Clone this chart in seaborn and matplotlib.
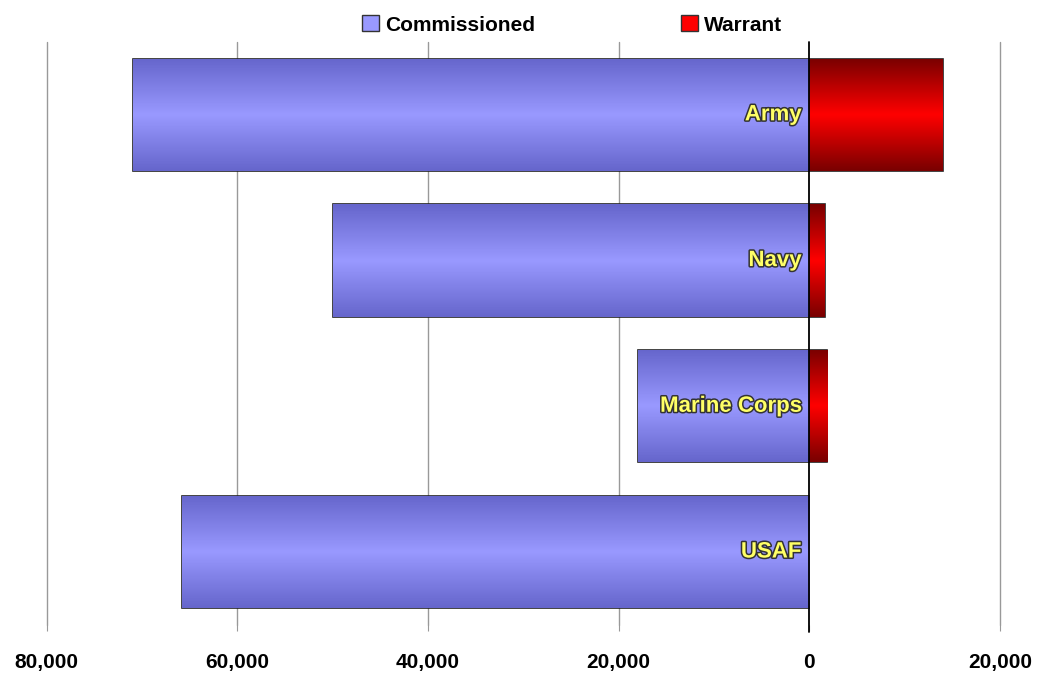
import pandas as pd
import seaborn as sns
import matplotlib.pyplot as plt
import matplotlib.patheffects as pe
import matplotlib.colors as mcolors
from matplotlib.patches import Patch
import numpy as np

# Data
branches = ['Army', 'Navy', 'Marine Corps', 'USAF']
commissioned = [71000, 50000, 18000, 65800]
warrant = [14000, 1600, 1900, 0]

df = pd.DataFrame({
    'branch': branches * 2,
    'type': ['Commissioned'] * 4 + ['Warrant'] * 4,
    'value': [-v for v in commissioned] + warrant,
})

sns.set_style('white')
plt.rcParams['font.family'] = ['Liberation Sans', 'DejaVu Sans']
plt.rcParams['text.color'] = 'black'
plt.rcParams['xtick.color'] = 'black'

fig = plt.figure(figsize=(10.4, 6.77), dpi=100)
ax = fig.add_axes([0.045, 0.077, 0.9165, 0.861])

palette = {'Commissioned': '#9999FF', 'Warrant': '#FF0000'}
sns.barplot(data=df, y='branch', x='value', hue='type', order=branches,
            hue_order=['Commissioned', 'Warrant'], palette=palette,
            dodge=False, width=0.77, orient='h', edgecolor='#222222',
            linewidth=1.2, saturation=1, ax=ax, legend=False)

# vertical gradient fill inside every bar (darker edges, light centre)
grad_maps = {
    '#9999FF': mcolors.LinearSegmentedColormap.from_list('c', ['#6666CC', '#9999FF', '#6666CC']),
    '#FF0000': mcolors.LinearSegmentedColormap.from_list('w', ['#7A0000', '#FF0000', '#7A0000']),
}
grad = np.linspace(0, 1, 100).reshape(-1, 1)
for bar in list(ax.patches):
    w = bar.get_width()
    if w == 0:
        continue
    col = mcolors.to_hex(bar.get_facecolor()).upper()
    x0, y0 = bar.get_x(), bar.get_y()
    h = bar.get_height()
    im = ax.imshow(grad, cmap=grad_maps.get(col, grad_maps['#9999FF']),
                   extent=[x0, x0 + w, y0 + h, y0], aspect='auto',
                   zorder=bar.get_zorder(), origin='upper')
    im.set_clip_path(bar)
ax.set_xlim(-80000, 20000)
ax.set_ylim(3.5, -0.5)

# grid and zero line
for gx in range(-80000, 20001, 20000):
    if gx == 0:
        ax.axvline(0, color='black', lw=1.3, ymin=-0.012, ymax=1.0, clip_on=False, zorder=5)
    else:
        ax.axvline(gx, color='#999999', lw=1, zorder=0, clip_on=False)

for s in ax.spines.values():
    s.set_visible(False)

ticks = list(range(-80000, 20001, 20000))
ax.set_xticks(ticks)
ax.set_xticklabels([f'{abs(t):,}' for t in ticks], fontsize=15, fontweight='heavy')
ax.tick_params(axis='x', length=4, color='#999999', pad=16, bottom=True, labelcolor='black')
ax.set_yticks([])
ax.set_xlabel('')
ax.set_ylabel('')

# category labels inside the bars
for i, b in enumerate(branches):
    ax.text(-800, i, b, ha='right', va='center', fontsize=16, fontweight='bold',
            color='#FFFF66', zorder=6,
            path_effects=[pe.withStroke(linewidth=2.2, foreground='#333333')])

# legend
handles = [Patch(facecolor='#9999FF', edgecolor='#333333', label='Commissioned'),
           Patch(facecolor='#FF0000', edgecolor='#333333', label='Warrant')]
fig.legend(handles=handles, loc='upper center', bbox_to_anchor=(0.55, 1.005), ncol=2,
           frameon=False, prop={'size': 15, 'weight': 'heavy'}, handlelength=0.8,
           handleheight=0.8, handletextpad=0.3, columnspacing=7, labelcolor='black')

fig.savefig('out.png', dpi=100)
